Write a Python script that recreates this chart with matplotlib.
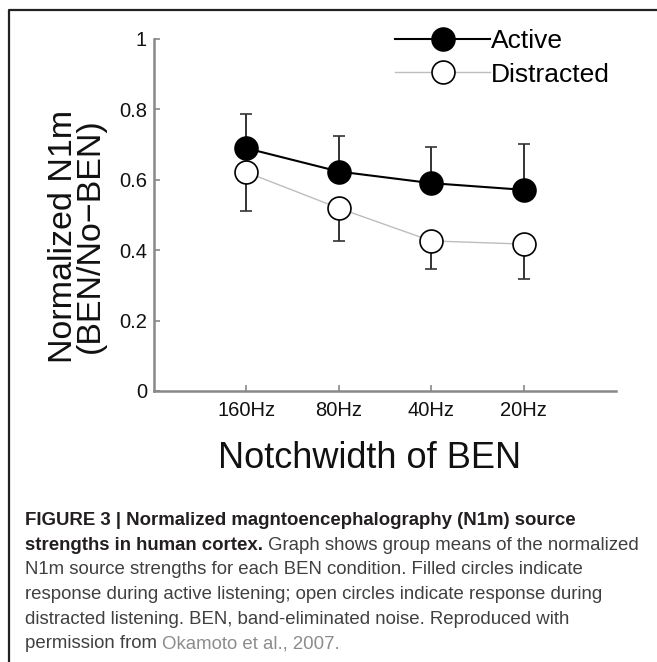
import matplotlib
matplotlib.use("Agg")
import matplotlib.pyplot as plt
from matplotlib.lines import Line2D

plt.rcParams['font.family'] = ['Liberation Sans', 'DejaVu Sans']

# data
conditions = ['160Hz', '80Hz', '40Hz', '20Hz']
active = [0.689, 0.623, 0.590, 0.571]
active_err = [0.098, 0.102, 0.102, 0.131]
distracted = [0.621, 0.519, 0.426, 0.417]
distracted_err = [0.109, 0.093, 0.081, 0.100]

W, H = 657, 662
fig = plt.figure(figsize=(W / 100, H / 100), dpi=100)
ax = fig.add_axes([154 / W, 1 - 391 / H, 462 / W, 352.3 / H])

x = list(range(1, len(conditions) + 1))

# one-sided error bars, behind the markers
ax.errorbar(x, active, yerr=[[0] * 4, active_err], fmt='none', ecolor='#333333',
            elinewidth=1.4, capsize=4, capthick=1.2, zorder=1)
ax.errorbar(x, distracted, yerr=[distracted_err, [0] * 4], fmt='none', ecolor='#333333',
            elinewidth=1.4, capsize=4, capthick=1.2, zorder=1)

ax.plot(x, distracted, color='#bdbdbd', lw=1.0, marker='o', ms=16.5,
        mfc='white', mec='black', mew=1.2, zorder=3, label='Distracted')
ax.plot(x, active, color='black', lw=1.5, marker='o', ms=16.5,
        mfc='black', mec='black', mew=1.2, zorder=4, label='Active')

ax.set_xlim(0, 5)
ax.set_ylim(0, 1)
ax.set_xticks(x)
ax.set_xticklabels(conditions)
ax.set_yticks([0, 0.2, 0.4, 0.6, 0.8, 1])
ax.set_yticklabels(['0', '0.2', '0.4', '0.6', '0.8', '1'])
ax.tick_params(direction='in', length=4, width=1.2, color='#888888',
               labelsize=14.5, labelcolor='#111111')
ax.tick_params(axis='x', pad=7)
ax.tick_params(axis='y', pad=5)
for s in ['top', 'right']:
    ax.spines[s].set_visible(False)
for s in ['left', 'bottom']:
    ax.spines[s].set_color('#888888')
    ax.spines[s].set_linewidth(1.8)

h, l = ax.get_legend_handles_labels()
leg = ax.legend(h[::-1], l[::-1], loc='upper left', bbox_to_anchor=(395 / W, 1 - 29 / H),
                bbox_transform=fig.transFigure, frameon=False, fontsize=19,
                handlelength=3.6, handletextpad=0.05, labelspacing=0.36,
                borderpad=0, borderaxespad=0)

fig.text(77 / W, 1 - 236 / H, 'Normalized N1m\n(BEN/No\u2212BEN)', rotation=90,
         ha='center', va='center', multialignment='center', fontsize=24.5,
         linespacing=0.85, color='#111111')
fig.text(370 / W, 1 - 468 / H, 'Notchwidth of BEN', ha='center', va='baseline',
         fontsize=26, color='#111111')

# frame of the figure panel
fig.add_artist(Line2D([8.5 / W, 8.5 / W, 1], [0, 1 - 10 / H, 1 - 10 / H],
                      transform=fig.transFigure, color='#222222', lw=1.6))

# caption
fig.canvas.draw()
r = fig.canvas.get_renderer()
cap_size = 13.4
x0 = 25 / W
base = [525, 549.7, 574.4, 599.1, 623.8, 648.5]
dark = '#231f20'
reg = '#404040'


def put(xp, yp, s, **kw):
    t = fig.text(xp, 1 - yp / H, s, va='baseline', ha='left', fontsize=cap_size, **kw)
    bb = t.get_window_extent(r)
    return (bb.x1) / W


fig.text(x0, 1 - base[0] / H, 'FIGURE 3 | Normalized magntoencephalography (N1m) source',
         va='baseline', fontsize=cap_size, fontweight='bold', color=dark)
nx = put(x0, base[1], 'strengths in human cortex.', fontweight='bold', color=dark)
put(nx, base[1], ' Graph shows group means of the normalized', color=reg)
put(x0, base[2], 'N1m source strengths for each BEN condition. Filled circles indicate', color=reg)
put(x0, base[3], 'response during active listening; open circles indicate response during', color=reg)
put(x0, base[4], 'distracted listening. BEN, band-eliminated noise. Reproduced with', color=reg)
nx = put(x0, base[5], 'permission from ', color=reg)
put(nx, base[5], 'Okamoto et al., 2007.', color='#8c8c8c')

fig.savefig('out.png', dpi=100)
